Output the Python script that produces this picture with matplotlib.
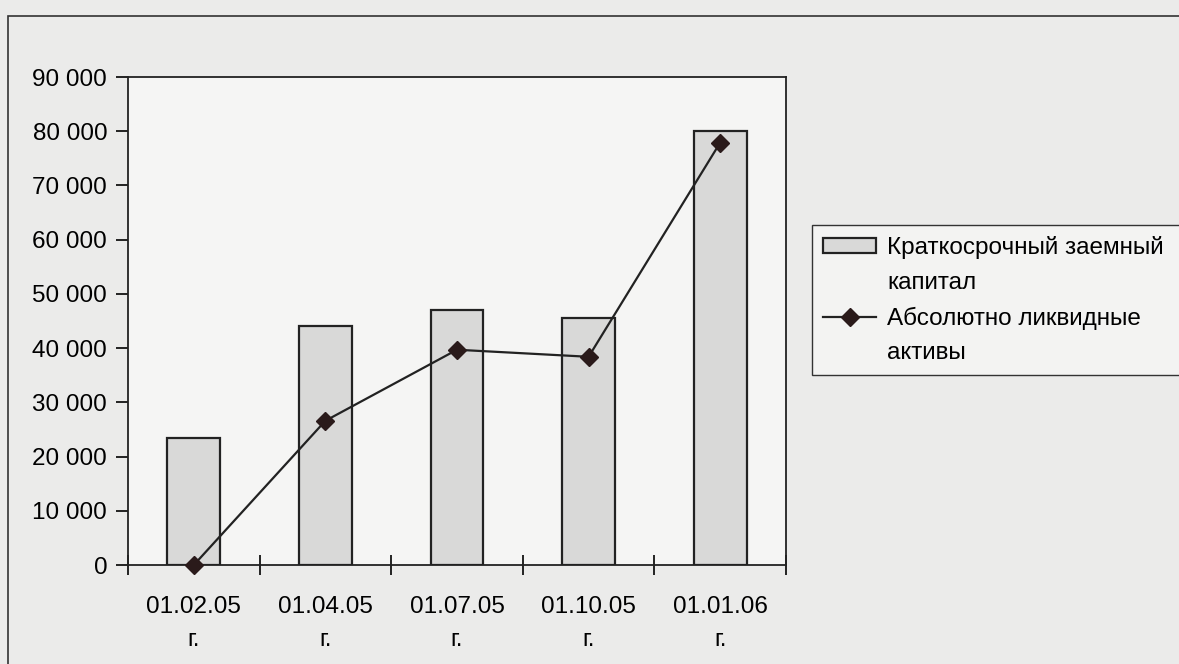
import matplotlib.pyplot as plt
import numpy as np
from matplotlib.patches import Rectangle

plt.rcParams['font.family'] = ['Liberation Sans', 'DejaVu Sans']

dates = ['01.02.05\nг.', '01.04.05\nг.', '01.07.05\nг.', '01.10.05\nг.', '01.01.06\nг.']
short_debt = [23500, 44000, 47000, 45600, 80000]     # Краткосрочный заемный капитал
liquid_assets = [0, 26600, 39700, 38400, 77900]      # Абсолютно ликвидные активы

W, H = 1179, 664
fig = plt.figure(figsize=(W / 100, H / 100), dpi=100, facecolor='#ebebea')

# outer chart frame (runs off the right and bottom edges)
fig.patches.append(Rectangle((8 / W, -0.1), 1.2, 1 - 16 / H + 0.1,
                             transform=fig.transFigure, fill=False,
                             edgecolor='#333333', linewidth=1.2))

ax = fig.add_axes([128 / W, 1 - 565 / H, (786 - 128) / W, (565 - 77) / H])
ax.set_facecolor('#f5f5f4')

x = np.arange(len(dates))
bars = ax.bar(x, short_debt, width=0.4, color='#d9d9d8', edgecolor='#222222',
              linewidth=1.6, zorder=2)
line, = ax.plot(x, liquid_assets, color='#222222', linewidth=1.6, marker='D',
                markersize=9, markerfacecolor='#2a1a1a', markeredgecolor='#2a1a1a',
                zorder=3, clip_on=False)

ax.set_xlim(-0.5, len(dates) - 0.5)
ax.set_ylim(0, 90000)
ax.set_yticks(np.arange(0, 90001, 10000))
ax.set_yticklabels([f'{v:,}'.replace(',', ' ') for v in range(0, 90001, 10000)])
ax.set_xticks(x)
ax.set_xticklabels(dates, linespacing=1.65)
ax.set_xticks(np.arange(-0.5, len(dates)), minor=True)
ax.tick_params(axis='x', which='major', length=0, pad=22, labelsize=17.5)
ax.tick_params(axis='x', which='minor', direction='inout', length=14, width=1.2)
ax.tick_params(axis='y', direction='out', length=9, width=1.2, pad=6, labelsize=17.5)

for s in ax.spines.values():
    s.set_color('#222222')
    s.set_linewidth(1.3)

# legend: second line of each label gets a blank handle, so the marker sits on the first line
# the frame runs past the right edge, as in the scan
blank = Rectangle((0, 0), 1, 1, fill=False, edgecolor='none')
handles = [bars[0], blank, line, blank]
labels = ['Краткосрочный заемный', 'капитал', 'Абсолютно ликвидные', 'активы']
ax.legend(handles, labels, loc='upper left', mode='expand',
          bbox_to_anchor=(812 / W, 1 - 226 / H, (1200 - 812) / W, 0.001),
          bbox_transform=fig.transFigure, borderaxespad=0, fontsize=17.5,
          frameon=True, fancybox=False, edgecolor='#333333', facecolor='#f3f3f2',
          framealpha=1, handlelength=2.2, handleheight=0.6, handletextpad=0.45,
          labelspacing=0.52, borderpad=0.45)

fig.savefig('out.png', dpi=100, facecolor=fig.get_facecolor())
